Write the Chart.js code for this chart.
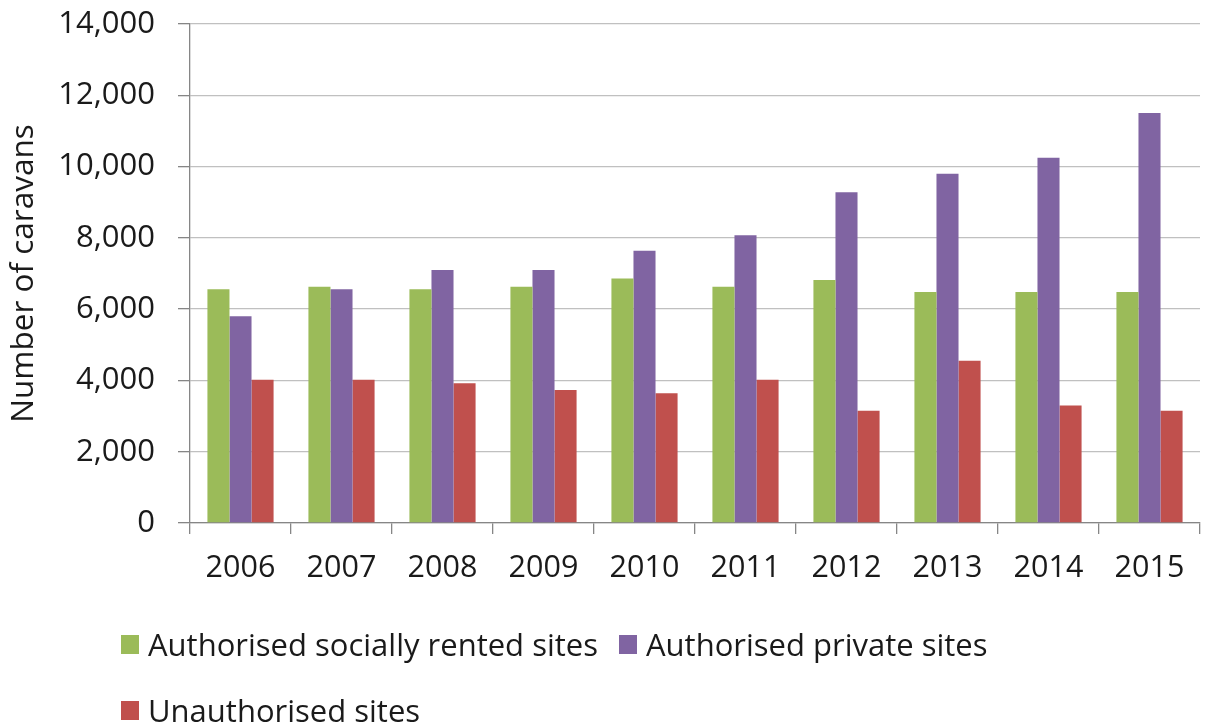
<!DOCTYPE html>
<html>
<head>
<meta charset="utf-8">
<script src="https://cdn.jsdelivr.net/npm/chart.js@4"></script>
<style>
  html, body { margin: 0; padding: 0; background: #fff; }
  #wrap { position: relative; width: 1207px; height: 724px; }
  #legend { position: absolute; left: 121px; top: 622px; width: 1070px; font-family: "Open Sans", sans-serif; font-size: 31px; color: #1a1a1a; line-height: 44px; }
  .row { height: 44px; display: flex; align-items: center; }
  .row + .row { margin-top: 22px; }
  .item { display: inline-flex; align-items: center; margin-right: 21px; }
  .box { width: 18px; height: 19px; margin-right: 9px; }
</style>
</head>
<body>
<div id="wrap">
  <canvas id="c" width="1207" height="724"></canvas>
  <div id="legend"></div>
</div>
<script>
const categories = ["2006","2007","2008","2009","2010","2011","2012","2013","2014","2015"];
const socialRented = [6560, 6630, 6560, 6630, 6860, 6630, 6820, 6480, 6480, 6480];
const privateSites = [5800, 6560, 7100, 7100, 7640, 8070, 9280, 9800, 10250, 11500];
const unauthorised = [4020, 4020, 3920, 3730, 3640, 4020, 3150, 4550, 3300, 3150];
const seriesNames = ["Authorised socially rented sites", "Authorised private sites", "Unauthorised sites"];
const seriesColors = ["#9BBB59", "#8064A2", "#C0504D"];
const yTitle = "Number of caravans";

const font = "'Open Sans', sans-serif";
const datasets = [socialRented, privateSites, unauthorised].map((d, i) => ({
  label: seriesNames[i], data: d, backgroundColor: seriesColors[i],
  categoryPercentage: 0.655, barPercentage: 1.0, borderWidth: 0
}));

new Chart(document.getElementById('c'), {
  type: 'bar',
  data: { labels: categories, datasets },
  options: {
    responsive: false, animation: false,
    layout: { padding: { top: 24, right: 7, left: 0, bottom: 0 } },
    plugins: { legend: { display: false }, tooltip: { enabled: false } },
    scales: {
      x: {
        grid: { offset: true, drawOnChartArea: false, drawTicks: true, tickLength: 11, color: '#868686', lineWidth: 1.3 },
        border: { color: '#868686', width: 1.3 },
        ticks: { font: { family: font, size: 30.5 }, color: '#1a1a1a', padding: 16, maxRotation: 0 },
        afterFit: s => { s.height = 201; s.paddingLeft = 0; s.paddingRight = 0; }
      },
      y: {
        min: 0, max: 14000,
        grid: { color: '#C0C0C0', lineWidth: 1.3, tickLength: 12, tickColor: '#868686' },
        border: { color: '#868686', width: 1.3 },
        ticks: { stepSize: 2000, font: { family: font, size: 31 }, color: '#1a1a1a', padding: 23,
                 callback: v => v.toLocaleString('en-US') },
        title: { display: true, text: yTitle, font: { family: font, size: 31.5 }, color: '#1a1a1a', padding: { top: 5, bottom: 0 } },
        afterFit: s => { s.width = 190; s.paddingTop = 0; s.paddingBottom = 0; }
      }
    }
  }
});

const lg = document.getElementById('legend');
let row = null;
seriesNames.forEach((n, i) => {
  if (i === 0 || i === 2) { row = document.createElement('div'); row.className = 'row'; lg.appendChild(row); }
  const it = document.createElement('span'); it.className = 'item';
  const b = document.createElement('span'); b.className = 'box'; b.style.background = seriesColors[i];
  const t = document.createElement('span'); t.textContent = n;
  it.appendChild(b); it.appendChild(t); row.appendChild(it);
});
</script>
</body>
</html>
